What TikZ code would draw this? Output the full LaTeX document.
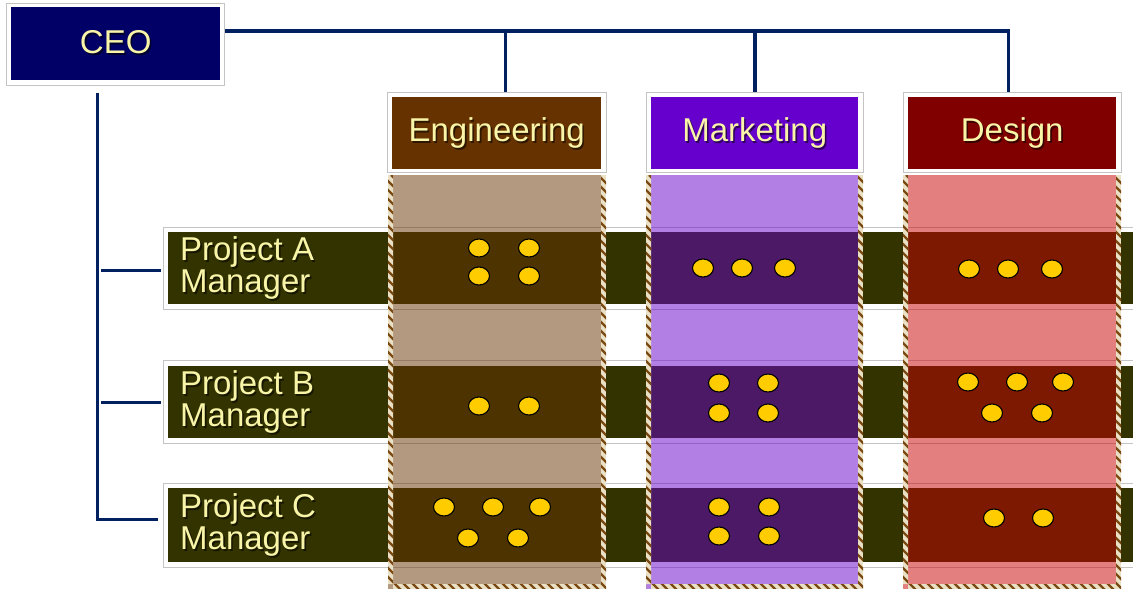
\documentclass[tikz,border=0pt]{standalone}
\usepackage{fontspec}
\setmainfont{Liberation Sans}
\definecolor{linenavy}{HTML}{002060}
\definecolor{framegray}{HTML}{C4C4C4}
\definecolor{ceoblue}{HTML}{000066}
\definecolor{engbrown}{HTML}{663300}
\definecolor{mktpurple}{HTML}{6600CC}
\definecolor{desred}{HTML}{800000}
\definecolor{descol}{HTML}{C80000}
\definecolor{barolive}{HTML}{333300}
\definecolor{labelyellow}{HTML}{F8F4A8}
\definecolor{hatchbrown}{HTML}{7A4A12}
\definecolor{hatchcream}{HTML}{EAE0C6}
\definecolor{dotyellow}{HTML}{FFCC00}
\newcommand\bigfont{\fontsize{33}{32}\selectfont}
% label text with a soft drop shadow
\newcommand\shadowlabel[4][]{%
  \node[lblshadow,#1] at (#3) {#4};
  \node[lbl,#1] (#2) at (#3) {#4};}
% striped border on the left, right and bottom of a column
\newcommand\hatchedcolumn[3]{%
  \fill[#3, opacity=0.5] (#1,175) rectangle (#2,589);
  \begin{scope}
    \path[clip] (#1,175) rectangle ++(5,414)
                (#2,175) rectangle ++(-5,414)
                (#1,589) rectangle (#2,584);
    \fill[hatchcream] (#1,175) rectangle (#2,589);
    \foreach \k in {-420,-411,...,230}
      \draw[hatchbrown, line width=2.3] (#1+\k,175) -- ++(420,420);
  \end{scope}}
\begin{document}
\begin{tikzpicture}[x=1pt,y=-1pt,
  frame/.style={draw=framegray, line width=0.9, fill=white, inner sep=0, anchor=north west},
  panel/.style={draw=none, inner sep=0, anchor=north west},
  bar/.style={panel, fill=barolive},
  conn/.style={draw=linenavy, line width=3.6},
  lbl/.style={text=labelyellow, font=\bigfont, inner sep=0, align=left},
  lblshadow/.style={lbl, text=black, opacity=0.55, xshift=1.6pt, yshift=-1.6pt},
  dot/.style={fill=dotyellow, draw=black, line width=1.1}]
\path[use as bounding box, clip] (0,0) rectangle (1133,589);

% CEO
\node[frame, minimum width=218, minimum height=82] (ceof) at (6,3) {};
\node[panel, fill=ceoblue, minimum width=209, minimum height=73] (ceo) at (11,7) {};
\shadowlabel{ceot}{[yshift=1.5pt]ceo.center}{CEO}

% department headers
\node[frame, minimum width=219, minimum height=80] (engf) at (387,92) {};
\node[panel, fill=engbrown, minimum width=209, minimum height=72] (eng) at (392,97) {};
\shadowlabel{engt}{eng.center}{Engineering}
\node[frame, minimum width=217, minimum height=80] (mktf) at (646,92) {};
\node[panel, fill=mktpurple, minimum width=207, minimum height=72] (mkt) at (651,97) {};
\shadowlabel{mktt}{mkt.center}{Marketing}
\node[frame, minimum width=218, minimum height=80] (desf) at (903,92) {};
\node[panel, fill=desred, minimum width=208, minimum height=72] (des) at (908,97) {};
\shadowlabel{dest}{des.center}{Design}

% project manager rows
\node[frame, minimum width=990, minimum height=82] (paf) at (163,227) {};
\node[bar, minimum width=980, minimum height=72] (pa) at (168,232) {};
\node[frame, minimum width=990, minimum height=83] (pbf) at (163,360) {};
\node[bar, minimum width=980, minimum height=72] (pb) at (168,366) {};
\node[frame, minimum width=990, minimum height=84] (pcf) at (163,483) {};
\node[bar, minimum width=980, minimum height=74] (pc) at (168,488) {};
\shadowlabel[anchor=west]{pat}{180,268}{Project A\\Manager}
\shadowlabel[anchor=west]{pbt}{180,402}{Project B\\Manager}
\shadowlabel[anchor=west]{pct}{180,525}{Project C\\Manager}

% department columns
\hatchedcolumn{388}{606}{engbrown}
\hatchedcolumn{646}{863}{mktpurple}
\hatchedcolumn{903}{1121}{descol}

% connectors
\draw[conn] (ceof.east |- 0,31) -- ([xshift=-4pt]desf.north |- 0,31) -- ([xshift=-4pt]desf.north);
\draw[conn] ([xshift=8.5pt]engf.north |- 0,31) -- ([xshift=8.5pt]engf.north);
\draw[conn] (mktf.north |- 0,31) -- (mktf.north);
\draw[conn] ([xshift=-18pt,yshift=-7pt]ceof.south) |- ([xshift=-5pt,yshift=6pt]pcf.west);
\draw[conn] ([xshift=-62pt,yshift=-2pt]paf.west) -- ([xshift=-2pt,yshift=-2pt]paf.west);
\draw[conn] ([xshift=-62pt,yshift=-0.5pt]pbf.west) -- ([xshift=-2pt,yshift=-0.5pt]pbf.west);

% staff markers
\foreach \p in {(479,248),(529,248),(479,276),(529,276),
                (703,268),(742,268),(785,268),
                (969,269),(1008,269),(1052,269),
                (479,406),(529,406),
                (719,383),(768,383),(719,413),(768,413),
                (968,382),(1017,382),(1063,382),(992,413),(1042,413),
                (444,507),(493,507),(540,507),(468,538),(518,538),
                (719,507),(769,507),(719,536),(769,536),
                (994,518),(1043,518)}
  \draw[dot] \p ellipse [x radius=10.5, y radius=9];
\end{tikzpicture}
\end{document}
